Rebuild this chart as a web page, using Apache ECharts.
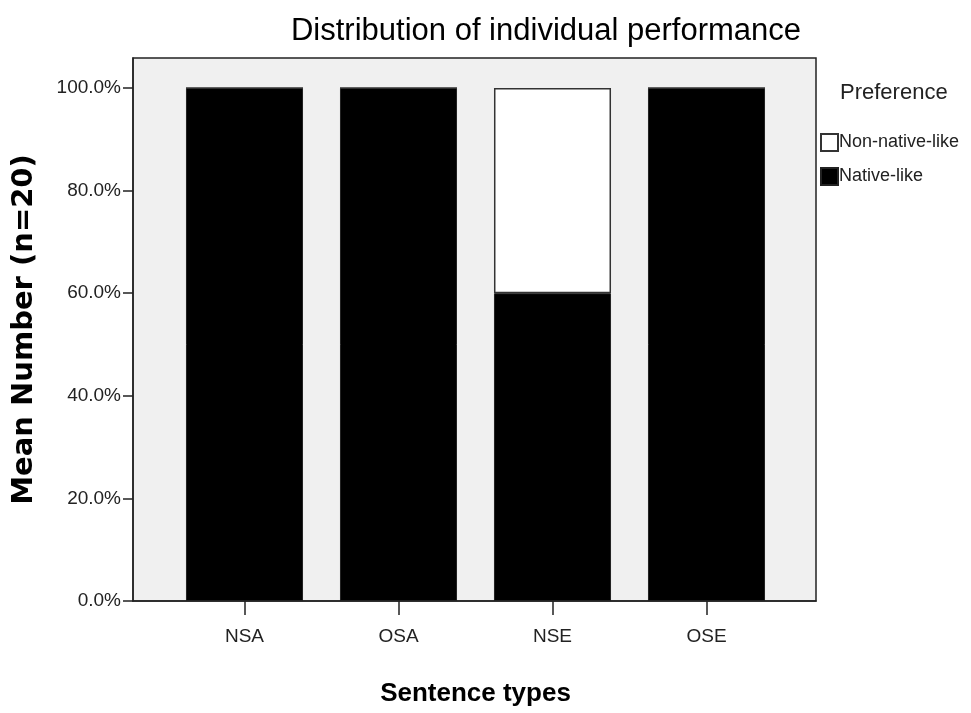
<!DOCTYPE html>
<html><head><meta charset="utf-8">
<script src="https://cdn.jsdelivr.net/npm/echarts@6/dist/echarts.min.js"></script>
<style>html,body{margin:0;padding:0;background:#fff}#c{width:971px;height:713px}</style>
</head><body><div id="c"></div>
<script>
const categories = ['NSA', 'OSA', 'NSE', 'OSE'];
const nativeLike = [100, 100, 60, 100];
const nonNativeLike = [0, 0, 40, 0];
const yTicks = [0, 20, 40, 60, 80, 100];
const seriesNames = ['Non-native-like', 'Native-like'];

const NARROW = "'Liberation Sans Narrow','Arial Narrow','Liberation Sans',Arial,sans-serif";
const YMAX = 105.85;
const chart = echarts.init(document.getElementById('c'), null, {renderer: 'canvas'});
chart.setOption({
  animation: false,
  backgroundColor: '#fff',
  title: {
    text: 'Distribution of individual performance',
    left: 541, top: 11, textAlign: 'center',
    textStyle: {fontFamily: NARROW, fontSize: 31, fontWeight: 'normal', color: '#000'}
  },
  graphic: [{
    type: 'text', left: 840, top: 82,
    style: {text: 'Preference', font: "22px 'Liberation Sans',Arial,sans-serif", fill: '#222'}
  }],
  legend: {
    orient: 'vertical', left: 820, top: 133, padding: 0,
    data: seriesNames,
    itemWidth: 17, itemHeight: 17, itemGap: 15,
    icon: 'rect',
    textStyle: {fontFamily: NARROW, fontSize: 18, color: '#222', padding: [0, 0, 0, -4]},
    selectedMode: false
  },
  grid: [
    {left: 133, right: 155, top: 58, bottom: 112,
     show: true, backgroundColor: '#f0f0f0', borderColor: '#222', borderWidth: 1.5},
    {left: 167.5, right: 187.5, top: 58, bottom: 112}
  ],
  xAxis: [
    {
      type: 'value', gridIndex: 0, min: 0, max: 1,
      axisLine: {show: true, onZero: false, lineStyle: {color: '#222', width: 1.5}},
      axisTick: {show: false}, axisLabel: {show: false}, splitLine: {show: false}
    },
    {
      type: 'category', gridIndex: 1, data: categories,
      name: 'Sentence types', nameLocation: 'middle', nameGap: 80,
      nameTextStyle: {fontFamily: "'Liberation Sans',Arial,sans-serif", fontWeight: 'bold', fontSize: 26, color: '#000'},
      axisLine: {show: false},
      axisTick: {show: true, alignWithLabel: true, length: 14, lineStyle: {color: '#222', width: 1.5}},
      axisLabel: {fontFamily: NARROW, fontSize: 19, color: '#222', margin: 26}
    }
  ],
  yAxis: [
    {
      type: 'value', gridIndex: 0, min: 0, max: YMAX,
      name: 'Mean Number (n=20)', nameLocation: 'middle', nameGap: 94,
      nameTextStyle: {fontFamily: "'DejaVu Sans',sans-serif", fontWeight: 'bold', fontSize: 29, color: '#000'},
      splitLine: {show: false},
      axisLine: {show: true, lineStyle: {color: '#222', width: 1.5}},
      axisTick: {show: true, length: 10, customValues: yTicks, lineStyle: {color: '#222', width: 1.5}},
      axisLabel: {customValues: yTicks, fontFamily: NARROW, fontSize: 19, color: '#222', margin: 12,
        formatter: v => v.toFixed(1) + '%'}
    },
    {
      type: 'value', gridIndex: 1, min: 0, max: YMAX, show: false, splitLine: {show: false}
    }
  ],
  series: [
    {
      name: 'Native-like', type: 'bar', stack: 'a', data: nativeLike, barWidth: '76%',
      xAxisIndex: 1, yAxisIndex: 1,
      itemStyle: {color: '#000', borderColor: '#222', borderWidth: 1}
    },
    {
      name: 'Non-native-like', type: 'bar', stack: 'a', data: nonNativeLike, barWidth: '76%',
      xAxisIndex: 1, yAxisIndex: 1,
      itemStyle: {color: '#fff', borderColor: '#333', borderWidth: 1.5}
    }
  ]
});
</script></body></html>
